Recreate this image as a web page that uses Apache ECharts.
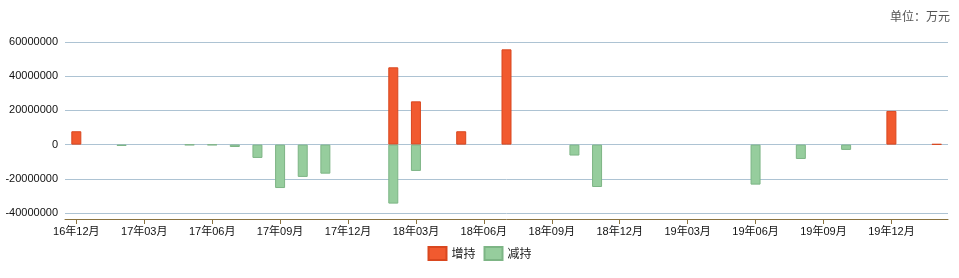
<!DOCTYPE html>
<html>
<head>
<meta charset="utf-8">
<script src="https://cdn.jsdelivr.net/npm/echarts@6/dist/echarts.min.js"></script>
<style>html,body{margin:0;padding:0;background:#fff;}#c{width:959px;height:278px;}</style>
</head>
<body>
<div id="c"></div>
<script>
const categories = ['16年12月','17年01月','17年02月','17年03月','17年04月','17年05月','17年06月','17年07月','17年08月','17年09月','17年10月','17年11月','17年12月','18年01月','18年02月','18年03月','18年04月','18年05月','18年06月','18年07月','18年08月','18年09月','18年10月','18年11月','18年12月','19年01月','19年02月','19年03月','19年04月','19年05月','19年06月','19年07月','19年08月','19年09月','19年10月','19年11月','19年12月','20年01月','20年02月'];
const increase = [7800000,null,null,null,null,null,null,null,null,null,null,null,null,null,45200000,25300000,null,7800000,null,55700000,null,null,null,null,null,null,null,null,null,null,null,null,null,null,null,null,19700000,null,300000];
const decrease = [null,null,-800000,null,null,-300000,-300000,-1400000,-7800000,-25400000,-18900000,-17000000,null,null,-34500000,-15400000,null,null,null,null,null,null,-6400000,-24800000,null,null,null,null,null,null,-23400000,null,-8400000,null,-3100000,null,null,null,null];
const seriesNames = ['增持','减持'];
const unitText = '单位：万元';

const chart = echarts.init(document.getElementById('c'));
chart.setOption({
  animation: false,
  textStyle: {fontFamily: '"Liberation Sans", "Noto Sans CJK SC", sans-serif'},
  title: {
    text: unitText, right: 4, top: 5,
    textStyle: {fontSize: 12, fontWeight: 'normal', color: '#555', fontFamily: '"Noto Sans CJK SC", serif'}
  },
  legend: {
    data: seriesNames, bottom: 12, left: 'center', icon: 'rect',
    itemWidth: 18, itemHeight: 13, itemGap: 8,
    textStyle: {fontSize: 12, color: '#222', fontFamily: '"Noto Sans CJK SC", sans-serif'}
  },
  grid: {left: 65, right: 11, top: 42, bottom: 65, containLabel: false},
  xAxis: {
    type: 'category', data: categories, boundaryGap: true, offset: 6,
    axisLine: {onZero: false, lineStyle: {color: '#8a7340', width: 1}},
    axisTick: {show: true, interval: 2, alignWithLabel: true, length: 5, lineStyle: {color: '#8a7340'}},
    axisLabel: {interval: 2, fontSize: 11, color: '#111', margin: 7, fontFamily: '"Liberation Sans", "Noto Sans CJK SC", sans-serif'},
    splitLine: {show: false}
  },
  yAxis: {
    type: 'value', min: -40000000, max: 60000000, interval: 20000000,
    axisLine: {show: false}, axisTick: {show: false},
    axisLabel: {fontSize: 11, color: '#111', margin: 7, formatter: v => String(v)},
    splitLine: {lineStyle: {color: '#adc3d3', width: 1}}
  },
  series: [
    {name: seriesNames[0], type: 'bar', data: increase, barWidth: 10, barGap: '-100%',
     itemStyle: {color: '#f15a2f', borderColor: '#d9471f', borderWidth: 1}},
    {name: seriesNames[1], type: 'bar', data: decrease, barWidth: 10, barGap: '-100%',
     itemStyle: {color: '#96cd9d', borderColor: '#7db585', borderWidth: 1}}
  ]
});
</script>
</body>
</html>
